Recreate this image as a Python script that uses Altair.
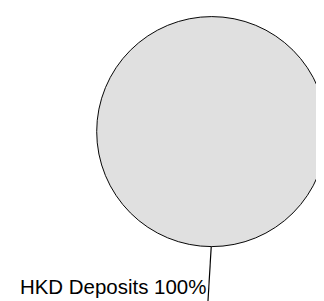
import altair as alt
import pandas as pd

categories = ["HKD Deposits"]
values = [100]
percent_labels = ["100%"]

df = pd.DataFrame({
    "category": categories,
    "value": values,
    "pct": percent_labels,
})
df["label"] = df["category"] + " " + df["pct"]

base = alt.Chart(df)

pie = base.mark_arc(
    outerRadius=118, stroke="#000000", strokeWidth=1, fill="#e0e0e0"
).encode(
    theta=alt.Theta("value:Q", stack=True),
    x=alt.value(209),
    y=alt.value(123),
)

leader = base.mark_rule(color="#000000", strokeWidth=1.2).encode(
    x=alt.value(208.5),
    y=alt.value(241),
    x2=alt.value(205),
    y2=alt.value(300),
)

label = base.mark_text(
    align="right", baseline="alphabetic", font="Liberation Sans", fontSize=21, color="#000000"
).encode(
    text="label:N",
    x=alt.value(203.5),
    y=alt.value(290),
)

chart = alt.layer(pie, leader, label).properties(
    width=316, height=293, padding=0, autosize=alt.AutoSizeParams(type="none")
).configure_view(stroke=None)

chart.save("out.html", embed_options={"renderer": "svg", "actions": False})
